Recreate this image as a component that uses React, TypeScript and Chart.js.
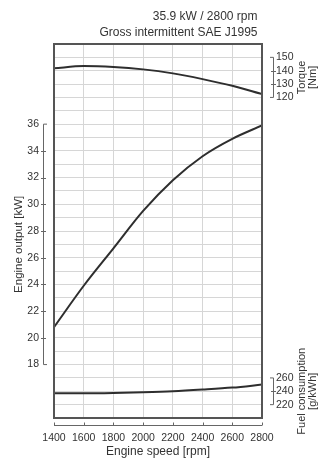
import React, { useEffect, useRef } from "react";
import { Chart, registerables } from "chart.js";

Chart.register(...registerables);

const RPM = [1400, 1600, 1800, 2000, 2200, 2400, 2600, 2800];
const POWER_KW = [20.8, 23.9, 26.7, 29.5, 31.8, 33.6, 34.9, 35.9];
const TORQUE_NM = [141.8, 143.5, 142.8, 141, 138, 133.7, 128.7, 122.5];
const FUEL_GKWH = [237, 237, 237.5, 238.5, 240, 242.5, 245.5, 250];

const X_TICKS = [1400, 1600, 1800, 2000, 2200, 2400, 2600, 2800];
const POWER_TICKS = [18, 20, 22, 24, 26, 28, 30, 32, 34, 36];
const TORQUE_TICKS = [120, 130, 140, 150];
const FUEL_TICKS = [220, 240, 260];

const TITLE_LINES = ["35.9 kW / 2800 rpm", "Gross intermittent SAE J1995"];
const X_TITLE = "Engine speed [rpm]";
const POWER_TITLE = "Engine output [kW]";
const TORQUE_TITLE = ["Torque", "[Nm]"];
const FUEL_TITLE = ["Fuel consumption", "[g/kWh]"];

const FONT = "'Liberation Sans', Arial, sans-serif";
const TEXT = "#333";
const AXIS = "#666";
const GRID = "#d6d6d6";
const CURVE = "#2e2e2e";

function vBracket(ctx: CanvasRenderingContext2D, x: number, scale: any, values: number[], dir: number) {
  const px = Math.round(x) + 0.5;
  const y0 = scale.getPixelForValue(values[0]);
  const y1 = scale.getPixelForValue(values[values.length - 1]);
  ctx.beginPath();
  ctx.moveTo(px + dir * 3.5, y0);
  ctx.lineTo(px, y0);
  ctx.lineTo(px, y1);
  ctx.lineTo(px + dir * 3.5, y1);
  for (let i = 1; i < values.length - 1; i++) {
    const y = Math.round(scale.getPixelForValue(values[i])) + 0.5;
    ctx.moveTo(px - 2.5, y);
    ctx.lineTo(px + 2.5, y);
  }
  ctx.stroke();
}

const decor = {
  id: "decor",
  afterDraw(chart: any) {
    const { ctx, chartArea: a, scales } = chart;
    ctx.save();
    // plot frame
    ctx.strokeStyle = "#555";
    ctx.lineWidth = 2;
    ctx.strokeRect(a.left, a.top, a.right - a.left, a.bottom - a.top);

    // titles
    ctx.fillStyle = TEXT;
    ctx.font = `12px ${FONT}`;
    ctx.textAlign = "right";
    ctx.textBaseline = "middle";
    ctx.fillText(TITLE_LINES[0], a.right - 4.5, a.top - 27);
    ctx.fillText(TITLE_LINES[1], a.right - 4.5, a.top - 11);

    // brackets
    ctx.strokeStyle = AXIS;
    ctx.lineWidth = 1;
    vBracket(ctx, a.left - 11, scales.yP, POWER_TICKS, 1);
    vBracket(ctx, a.right + 11, scales.yT, TORQUE_TICKS, -1);
    vBracket(ctx, a.right + 11, scales.yF, FUEL_TICKS, -1);

    // x bracket
    const xs = scales.x;
    const yb = Math.round(a.bottom + 7) + 0.5;
    const x0 = xs.getPixelForValue(X_TICKS[0]);
    const x1 = xs.getPixelForValue(X_TICKS[X_TICKS.length - 1]);
    ctx.beginPath();
    ctx.moveTo(x0, yb);
    ctx.lineTo(x1, yb);
    for (const v of X_TICKS) {
      const px = Math.round(xs.getPixelForValue(v)) + 0.5;
      ctx.moveTo(px, yb);
      ctx.lineTo(px, yb - 3);
    }
    ctx.stroke();

    // right tick labels
    ctx.font = `10.5px ${FONT}`;
    ctx.textAlign = "left";
    ctx.textBaseline = "middle";
    for (const v of TORQUE_TICKS) ctx.fillText(String(v), a.right + 14, scales.yT.getPixelForValue(v));
    for (const v of FUEL_TICKS) ctx.fillText(String(v), a.right + 14, scales.yF.getPixelForValue(v));

    // rotated titles
    const rot = (lines: string[], x: number, yc: number, size: number, gap: number) => {
      ctx.save();
      ctx.translate(x, yc);
      ctx.rotate(-Math.PI / 2);
      ctx.font = `${size}px ${FONT}`;
      ctx.textAlign = "center";
      ctx.textBaseline = "middle";
      lines.forEach((t, i) => ctx.fillText(t, 0, i * gap));
      ctx.restore();
    };
    const tMid = (scales.yT.getPixelForValue(TORQUE_TICKS[0]) + scales.yT.getPixelForValue(TORQUE_TICKS[TORQUE_TICKS.length - 1])) / 2;
    const fMid = (scales.yF.getPixelForValue(FUEL_TICKS[0]) + scales.yF.getPixelForValue(FUEL_TICKS[FUEL_TICKS.length - 1])) / 2;
    const pMid = (scales.yP.getPixelForValue(POWER_TICKS[0]) + scales.yP.getPixelForValue(POWER_TICKS[POWER_TICKS.length - 1])) / 2;
    rot(TORQUE_TITLE, a.right + 39.5, tMid, 11, 11);
    rot(FUEL_TITLE, a.right + 39.5, fMid, 11, 11);
    rot([POWER_TITLE], 19, pMid, 11.5, 0);
    ctx.restore();
  },
};

export default function App() {
  const ref = useRef<HTMLCanvasElement>(null);
  useEffect(() => {
    document.body.style.margin = "0";
    const mk = (ys: number[]) => RPM.map((x, i) => ({ x, y: ys[i] }));
    const common = {
      borderColor: CURVE,
      borderWidth: 2,
      pointRadius: 0,
      fill: false,
      tension: 0.4,
      cubicInterpolationMode: "monotone" as const,
    };
    const chart = new Chart(ref.current!, {
      type: "line",
      data: {
        datasets: [
          { label: "Engine output", data: mk(POWER_KW), yAxisID: "yP", ...common },
          { label: "Torque", data: mk(TORQUE_NM), yAxisID: "yT", ...common },
          { label: "Fuel consumption", data: mk(FUEL_GKWH), yAxisID: "yF", ...common },
        ],
      },
      options: {
        animation: false,
        responsive: false,
        devicePixelRatio: 1,
        layout: { padding: { left: 0, right: 72, top: 44, bottom: 0 } },
        plugins: { legend: { display: false }, tooltip: { enabled: false }, title: { display: false } },
        font: { family: FONT },
        scales: {
          x: {
            type: "linear",
            min: 1400,
            max: 2800,
            border: { display: false },
            grid: { color: GRID, lineWidth: 1, drawTicks: false },
            ticks: {
              stepSize: 200,
              autoSkip: false,
              maxRotation: 0,
              padding: 14,
              color: TEXT,
              font: { size: 10.5, family: FONT },
              callback: (v: any) => (X_TICKS.includes(Number(v)) ? String(v) : ""),
            },
            title: {
              display: true,
              text: X_TITLE,
              color: TEXT,
              font: { size: 12, family: FONT },
              padding: { top: 0, bottom: 15 },
            },
            afterFit: (s: any) => {
              s.height = 56;
            },
          },
          yP: {
            type: "linear",
            position: "left",
            min: 14,
            max: 42,
            border: { display: false },
            grid: { color: GRID, lineWidth: 1, drawTicks: false },
            ticks: {
              stepSize: 1,
              autoSkip: false,
              padding: 15,
              color: TEXT,
              font: { size: 10.5, family: FONT },
              callback: (v: any) => (POWER_TICKS.includes(Number(v)) ? String(v) : ""),
            },
            afterFit: (s: any) => {
              s.width = 54;
            },
          },
          yT: { type: "linear", position: "right", min: -120, max: 160, display: false },
          yF: { type: "linear", position: "right", min: 200, max: 760, display: false },
        },
      },
      plugins: [decor],
    } as any);
    return () => chart.destroy();
  }, []);
  return (
    <div style={{ position: "relative", width: 334, height: 474 }}>
      <canvas ref={ref} width={334} height={474} style={{ display: "block", width: 334, height: 474 }} />
    </div>
  );
}
